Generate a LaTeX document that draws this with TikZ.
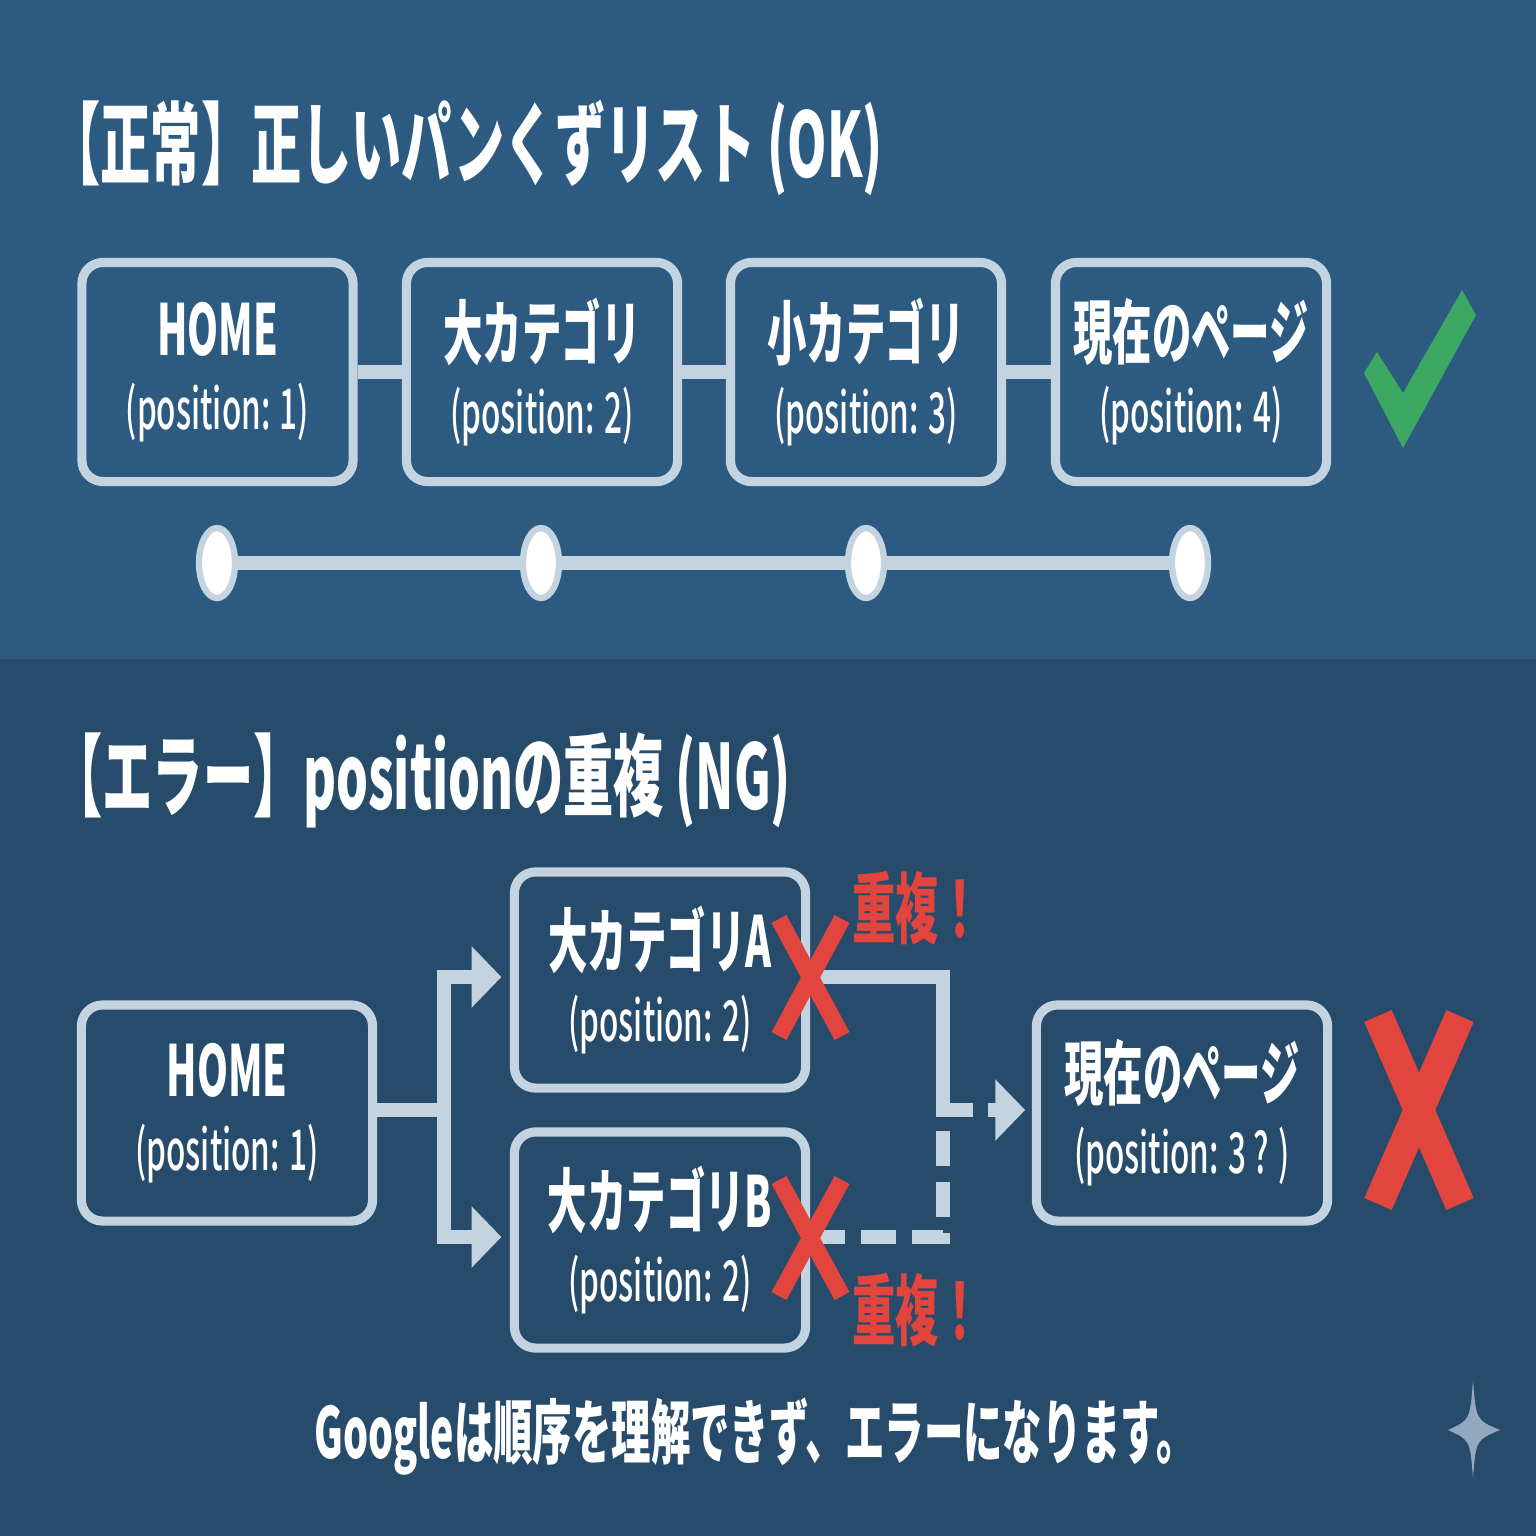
\documentclass[tikz,border=0pt]{standalone}
\usepackage{fontspec}
\setmainfont{Noto Sans CJK JP}[FakeStretch=0.56]
\newfontfamily\medfont{Noto Sans CJK JP Medium}[FakeStretch=0.56]
\usetikzlibrary{shapes.geometric,arrows.meta}

\definecolor{bgtop}{HTML}{2D5A80}
\definecolor{bgbot}{HTML}{264B6B}
\definecolor{rim}{HTML}{C3D3E0}
\definecolor{okgreen}{HTML}{3DA863}
\definecolor{ngred}{HTML}{E2443E}
\definecolor{spark}{HTML}{92A8BF}
\newcommand{\posline}[1]{\\\medfont\mdseries\fontsize{16}{21}\selectfont(position: #1)}

\begin{document}
\begin{tikzpicture}[x=0.01cm,y=-0.01cm,
    crumb/.style={draw=rim,line width=2.6pt,rounded corners=6pt,minimum width=2.71cm,minimum height=2.19cm,
      align=center,text=white,font=\bfseries\fontsize{20}{21}\selectfont},
    wide/.style={crumb,minimum width=2.91cm,minimum height=2.16cm},
    link/.style={draw=rim,line width=4pt,line join=miter},
    head/.style={-{Triangle[length=8.5pt,width=17pt]}},
    dot/.style={ellipse,draw=rim,fill=white,line width=1.8pt,minimum width=0.36cm,minimum height=0.7cm,inner sep=0pt},
    title/.style={anchor=west,text=white,font=\bfseries\fontsize{25.5}{28}\selectfont},
    dup/.style={text=ngred,font=\bfseries\fontsize{22}{24}\selectfont},
    ngx/.style={draw=ngred,line width=4.8pt}]
  \useasboundingbox (0,0) rectangle (1536,1536);
  % Sfondo
  \fill[bgtop] (0,0) rectangle (1536,659);
  \fill[bgbot] (0,659) rectangle (1536,1536);

  % Parte alta: lista corretta
  \node[title] (oktitle) at (38,148) {【正常】正しいパンくずリスト (OK)};
  \node[crumb] (home) at (217.5,372) {HOME\posline{1}};
  \node[crumb] (big) at (542,372) {大カテゴリ\posline{2}};
  \node[crumb] (small) at (866,372) {小カテゴリ\posline{3}};
  \node[crumb] (page) at (1191,372) {現在のページ\posline{4}};
  \draw[link] (home) -- (big);
  \draw[link] (big) -- (small);
  \draw[link] (small) -- (page);
  \fill[okgreen] (1364,373) -- (1377,352) -- (1403,393) -- (1462,290) -- (1476,315) -- (1403,448) -- cycle;

  % Binario con i punti
  \node[dot] (d1) at (217,563) {};
  \node[dot] (d2) at (541,563) {};
  \node[dot] (d3) at (866,563) {};
  \node[dot] (d4) at (1190,563) {};
  \draw[link] (d1) -- (d2);
  \draw[link] (d2) -- (d3);
  \draw[link] (d3) -- (d4);

  % Parte bassa: position duplicata
  \node[title] (ngtitle) at (40,780) {【エラー】positionの重複 (NG)};
  \node[wide] (nghome) at (227,1113) {HOME\posline{1}};
  \node[wide] (catA) at (660,980) {大カテゴリA\posline{2}};
  \node[wide] (catB) at (660,1240) {大カテゴリB\posline{2}};
  \node[wide] (ngpage) at (1182,1113) {現在のページ\posline{3 ? }};
  \coordinate (fork) at (444,1110);
  \coordinate (join) at (943,1110);
  \coordinate (gap) at (988,1110);
  \coordinate (joinB) at (943,1128);
  \draw[link,head,shorten >=2.4pt] (nghome.east |- fork) -- (fork) |- (catA.west |- 0,977);
  \draw[link,head,shorten >=2.4pt] (fork) |- (catB.west |- 0,1237);
  \draw[link] (catA.east |- 0,977) -| (join) -- ++(30,0);
  \draw[link,head,shorten >=1.9pt] (gap) -- (ngpage.west |- gap);
  \draw[link,dash pattern=on 10pt off 4.5pt] (catB.east |- 0,1237) -| (joinB);

  % Croci rosse
  \draw[ngx] (779,919) -- (842,1036) (842,919) -- (779,1036);
  \draw[ngx] (779,1180) -- (842,1296) (842,1180) -- (779,1296);
  \draw[ngx,line width=8.5pt] (1378,1016) -- (1460,1204) (1460,1016) -- (1378,1204);
  \node[dup] (dupA) at (917,908) {重複！};
  \node[dup] (dupB) at (917,1310) {重複！};

  % Nota finale
  \node[text=white,font=\bfseries\fontsize{20}{24}\selectfont] (note) at (755,1437) {Googleは順序を理解できず、エラーになります。};
  \fill[spark] (1473,1380) .. controls (1476,1420) .. (1500,1430) .. controls (1476,1440) .. (1473,1478)
    .. controls (1470,1440) .. (1448,1430) .. controls (1470,1420) .. (1473,1380);
\end{tikzpicture}
\end{document}
